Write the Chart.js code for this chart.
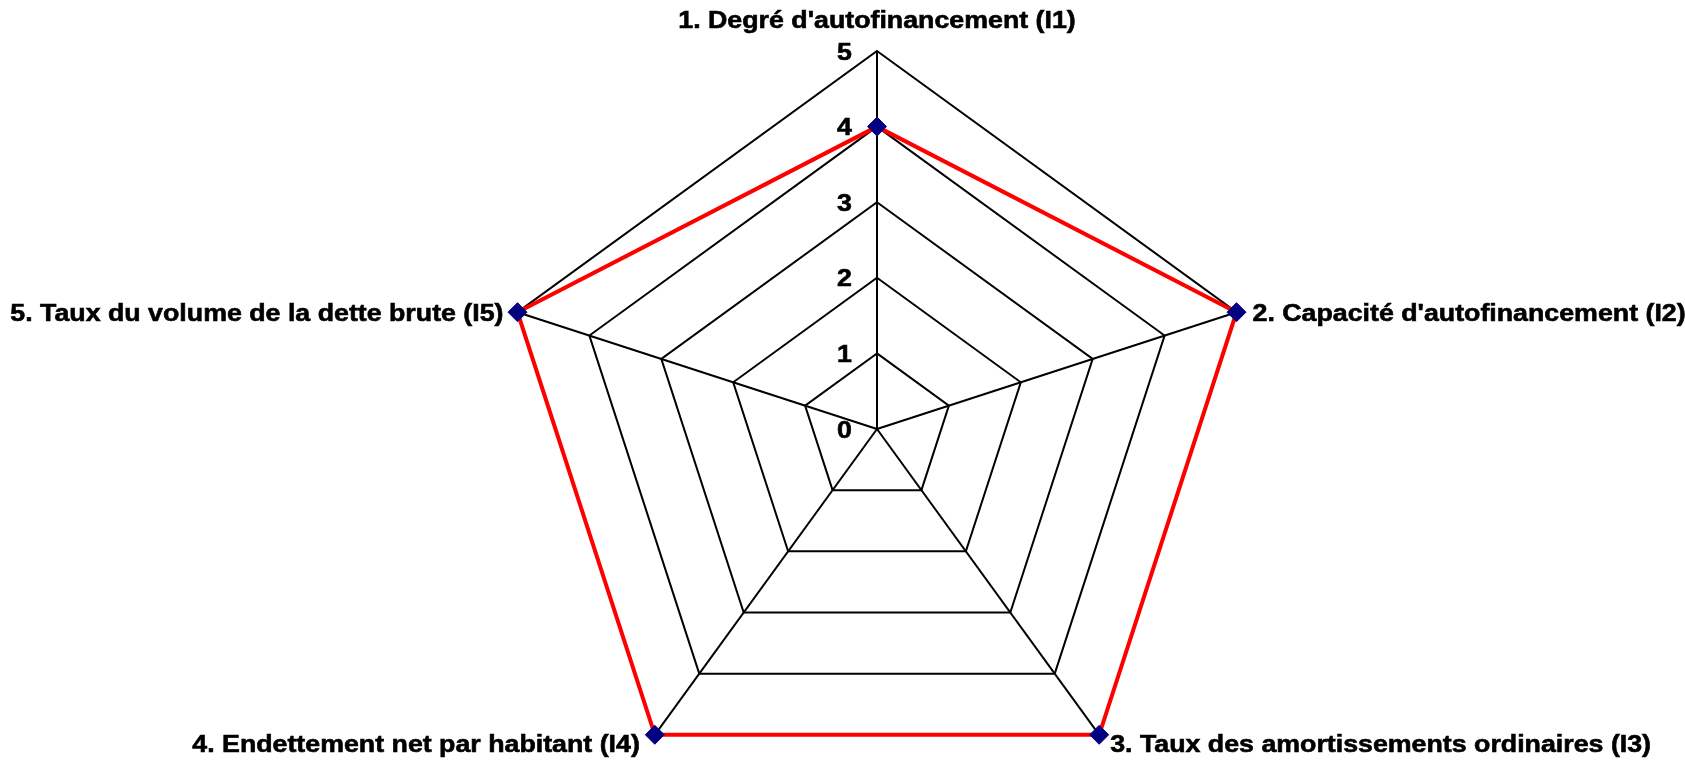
<!DOCTYPE html>
<html>
<head>
<meta charset="utf-8">
<script src="https://cdn.jsdelivr.net/npm/chart.js@4/dist/chart.umd.min.js"></script>
<style>
html,body{margin:0;padding:0;background:#fff;overflow:hidden;}
#wrap{width:1685px;height:762px;position:relative;}
</style>
</head>
<body>
<div id="wrap"><canvas id="c"></canvas></div>
<script>
const categories = [
  "1. Degré d'autofinancement (I1)",
  "2. Capacité d'autofinancement (I2)",
  "3. Taux des amortissements ordinaires (I3)",
  "4. Endettement net par habitant (I4)",
  "5. Taux du volume de la dette brute (I5)"
];
const seriesValues = [4, 5, 5, 5, 5];
const tickValues = [0, 1, 2, 3, 4, 5];
const tickLabels = ["0", "1", "2", "3", "4", "5"];

const FONT = "bold 24px 'Liberation Sans', Arial, sans-serif";
const STRETCH = 1.115;
const CAP_HALF = 8.6;

function drawStretched(ctx, text, x, y, align) {
  ctx.save();
  ctx.translate(x, y);
  ctx.scale(STRETCH, 1);
  ctx.textAlign = align;
  ctx.textBaseline = 'alphabetic';
  ctx.lineWidth = 0.6;
  ctx.strokeStyle = '#000';
  ctx.fillText(text, 0, 0);
  ctx.strokeText(text, 0, 0);
  ctx.restore();
}

const labelPlugin = {
  id: 'labelPlugin',
  afterDatasetsDraw(chart) {
    const scale = chart.scales.r;
    const ctx = chart.ctx;
    ctx.save();
    ctx.font = FONT;
    ctx.fillStyle = '#000';
    tickValues.forEach((v, i) => {
      const d = scale.getDistanceFromCenterForValue(v);
      drawStretched(ctx, tickLabels[i], scale.xCenter - 25, scale.yCenter - d + CAP_HALF, 'right');
    });
    categories.forEach((lab, i) => {
      const p = scale.getPointPosition(i, scale.drawingArea);
      let x = p.x, y = p.y, align = 'center';
      if (i === 0) { y = p.y - 32; }
      else if (i === 1) { x = p.x + 16; align = 'left'; }
      else if (i === 4) { x = p.x - 14; align = 'right'; }
      else if (i === 2) { x = p.x + 11; y = p.y + 9; align = 'left'; }
      else if (i === 3) { x = p.x - 15; y = p.y + 9; align = 'right'; }
      drawStretched(ctx, lab, x, y + CAP_HALF, align);
    });
    ctx.restore();
  }
};

new Chart(document.getElementById('c'), {
  type: 'radar',
  data: {
    labels: categories,
    datasets: [{
      data: seriesValues,
      borderColor: '#ff0000',
      borderWidth: 4,
      fill: false,
      backgroundColor: 'transparent',
      pointStyle: 'rectRot',
      pointRadius: 9.5,
      pointHoverRadius: 9.5,
      pointBackgroundColor: '#000080',
      pointBorderColor: '#000080',
      pointBorderWidth: 1,
      tension: 0
    }]
  },
  options: {
    responsive: true,
    maintainAspectRatio: false,
    animation: false,
    events: [],
    layout: { padding: 0 },
    plugins: { legend: { display: false }, tooltip: { enabled: false } },
    scales: {
      r: {
        min: 0,
        max: 5,
        beginAtZero: true,
        ticks: { display: false, stepSize: 1 },
        grid: { color: '#000', lineWidth: 2 },
        angleLines: { color: '#000', lineWidth: 2 },
        pointLabels: { display: false },
        afterFit(scale) {
          scale.xCenter = 877;
          scale.yCenter = 429;
          scale.drawingArea = 378;
        }
      }
    }
  },
  plugins: [labelPlugin]
});
</script>
</body>
</html>
